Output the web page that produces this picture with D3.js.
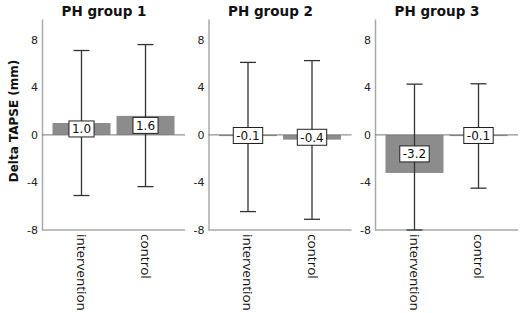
<!DOCTYPE html>
<html>
<head>
<meta charset="utf-8">
<script src="https://cdn.jsdelivr.net/npm/d3@7"></script>
<style>
  body { margin: 0; background: #fff; }
  svg { display: block; }
</style>
</head>
<body>
<div id="chart"></div>
<script>
// data
var groups = ["PH group 1", "PH group 2", "PH group 3"];
var arms = ["intervention", "control"];
var means = [[1.0, 1.6], [-0.1, -0.4], [-3.2, -0.1]];
var upper = [[7.1, 7.6], [6.1, 6.25], [4.27, 4.3]];
var lower = [[-5.1, -4.35], [-6.45, -7.1], [-8, -4.48]];
var yTicks = [8, 4, 0, -4, -8];

var width = 520, height = 313;
var panelLeft = [42, 208.5, 375];
var plotW = 143, plotTop = 19, plotBottom = 230;

var svg = d3.select("#chart").append("svg")
    .attr("width", width)
    .attr("height", height);

var yScale = d3.scaleLinear().domain([-8, 9.75]).range([plotBottom, plotTop]);
var xScale = d3.scaleBand().domain(arms).range([0, plotW])
    .paddingInner(0.094).paddingOuter(0.164);

// y axis title
svg.append("text")
    .attr("transform", "translate(18," + 121 + ") rotate(-90)")
    .attr("text-anchor", "middle")
    .style("font-family", "DejaVu Sans")
    .style("font-weight", "bold")
    .style("font-size", "12px")
    .attr("fill", "#111")
    .text("Delta TAPSE (mm)");

groups.forEach(function (g, gi) {
    var panel = svg.append("g")
        .attr("transform", "translate(" + panelLeft[gi] + ",0)");

    panel.append("text")
        .attr("x", 62)
        .attr("y", 16)
        .attr("text-anchor", "middle")
        .style("font-family", "DejaVu Sans")
        .style("font-weight", "bold")
        .style("font-size", "13.5px")
        .attr("fill", "#111")
        .text(g);

    // y axis
    var yAxis = panel.append("g")
        .call(d3.axisLeft(yScale).tickValues(yTicks).tickSize(0).tickPadding(4)
            .tickFormat(function (d) { return d < 0 ? "-" + Math.abs(d) : d; }));
    yAxis.select(".domain").attr("stroke", "#a8a8a8").attr("stroke-width", 1.5);
    yAxis.selectAll("text")
        .style("font-family", "DejaVu Sans")
        .style("font-size", "11px")
        .attr("fill", "#222");

    // bottom axis line
    panel.append("line")
        .attr("x1", 0).attr("x2", plotW)
        .attr("y1", yScale(-8)).attr("y2", yScale(-8))
        .attr("stroke", "#a8a8a8").attr("stroke-width", 1.5);

    // bars
    panel.selectAll("rect.bar")
        .data(arms)
        .enter()
        .append("rect")
        .attr("class", "bar")
        .attr("x", function (d) { return xScale(d); })
        .attr("width", xScale.bandwidth())
        .attr("y", function (d, i) { return yScale(Math.max(0, means[gi][i])); })
        .attr("height", function (d, i) { return Math.abs(yScale(means[gi][i]) - yScale(0)); })
        .attr("fill", "#8c8c8c");

    // zero line
    panel.append("line")
        .attr("x1", 0).attr("x2", plotW)
        .attr("y1", yScale(0)).attr("y2", yScale(0))
        .attr("stroke", "#777").attr("stroke-width", 1);

    // error bars
    arms.forEach(function (a, i) {
        var cx = xScale(a) + xScale.bandwidth() / 2;
        panel.append("line")
            .attr("x1", cx).attr("x2", cx)
            .attr("y1", yScale(upper[gi][i])).attr("y2", yScale(lower[gi][i]))
            .attr("stroke", "#333").attr("stroke-width", 1.3);
        [upper[gi][i], lower[gi][i]].forEach(function (v) {
            panel.append("line")
                .attr("x1", cx - 8).attr("x2", cx + 8)
                .attr("y1", yScale(v)).attr("y2", yScale(v))
                .attr("stroke", "#333").attr("stroke-width", 1.3);
        });

        // value label in a box, centred on the bar's middle
        var cy = yScale(means[gi][i] / 2);
        var lab = panel.append("g").attr("transform", "translate(" + cx + "," + cy + ")");
        var rect = lab.append("rect");
        var txt = lab.append("text")
            .attr("text-anchor", "middle")
            .attr("dy", "0.36em")
            .style("font-family", "DejaVu Sans")
            .style("font-size", "12px")
            .attr("fill", "#111")
            .text(means[gi][i].toFixed(1));
        var w = txt.node().getComputedTextLength() + 6;
        rect.attr("x", -w / 2).attr("y", -8)
            .attr("width", w).attr("height", 16)
            .attr("fill", "#fff").attr("stroke", "#222").attr("stroke-width", 1);

        // category label, rotated
        panel.append("text")
            .attr("transform", "translate(" + (cx - 4.5) + "," + (plotBottom + 4) + ") rotate(90)")
            .attr("text-anchor", "start")
            .style("font-family", "Open Sans")
            .style("font-size", "13.5px")
            .attr("fill", "#111")
            .text(a);
    });
});
</script>
</body>
</html>
